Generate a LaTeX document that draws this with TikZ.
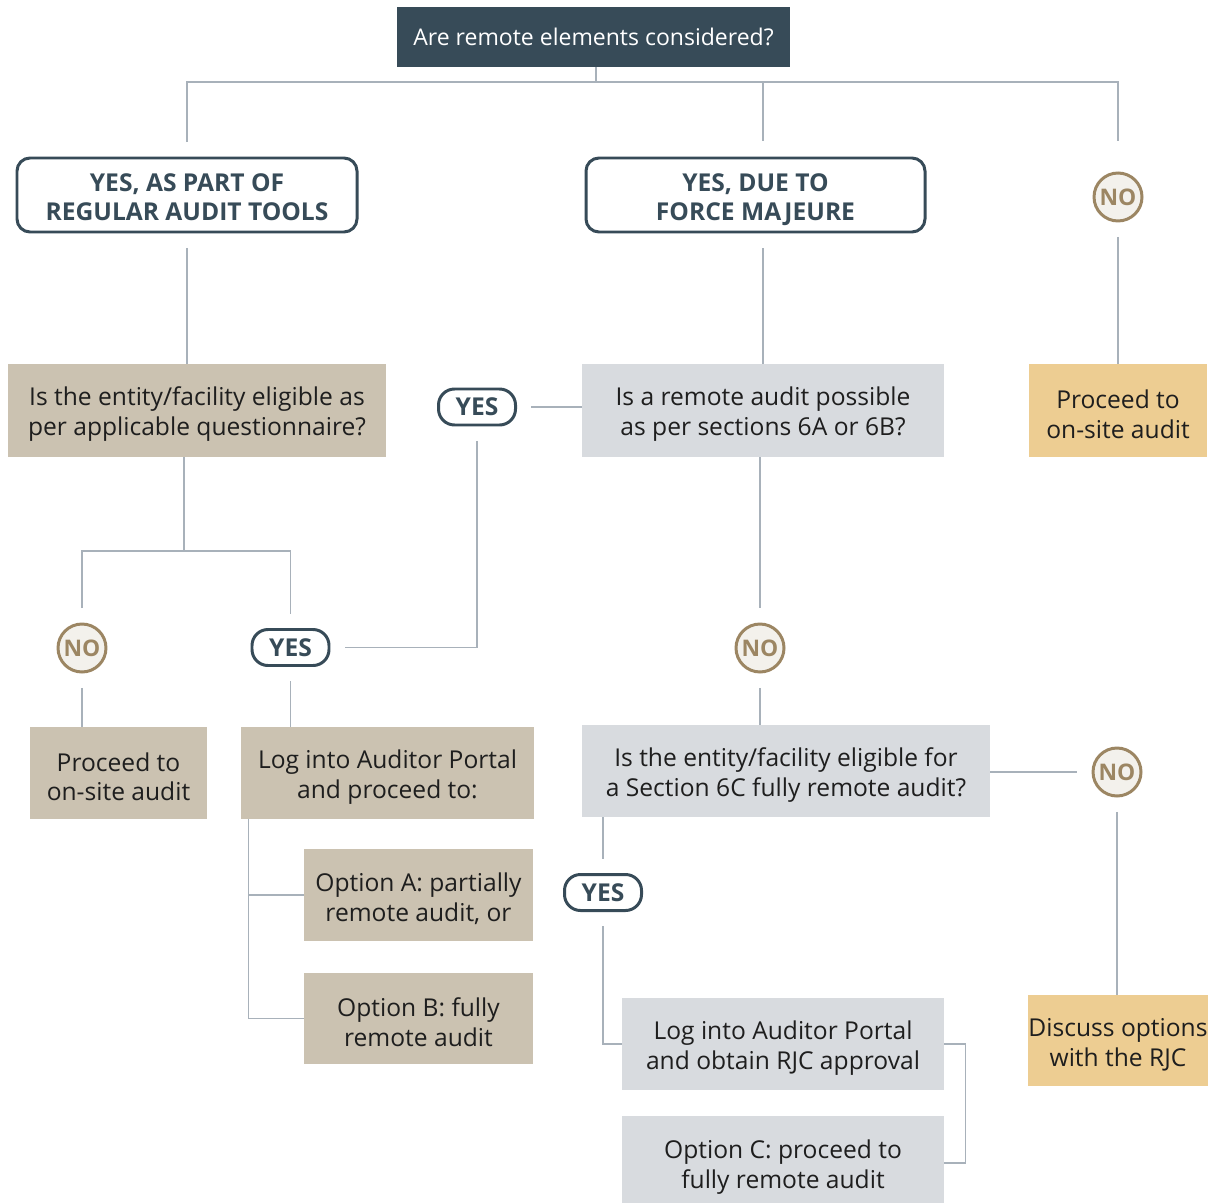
\documentclass[tikz,border=0pt]{standalone}
\usepackage{fontspec}
\setmainfont{Open Sans}
\definecolor{slate}{RGB}{55,75,88}
\definecolor{sand}{RGB}{203,194,177}
\definecolor{mist}{RGB}{216,219,223}
\definecolor{honey}{RGB}{237,205,146}
\definecolor{bronze}{RGB}{156,134,99}
\definecolor{shell}{RGB}{243,241,236}
\definecolor{wire}{RGB}{168,177,186}
\definecolor{ink}{RGB}{30,30,30}
\newcommand\pad[1][15pt]{\rule{0pt}{#1}}
\tikzset{
  wh/.style 2 args={minimum width=#1*0.02cm, minimum height=#2*0.02cm},
  box/.style={inner sep=0pt, align=center, text=ink, font=\fontsize{14}{17}\selectfont},
  sandbox/.style={box, fill=sand},
  mistbox/.style={box, fill=mist},
  honeybox/.style={box, fill=honey},
  head/.style={box, fill=slate, text=white, font=\fontsize{13.1}{16}\selectfont},
  tag/.style={inner sep=0pt, align=center, draw=slate, fill=white, line width=1.7pt,
    rounded corners=0.26cm, text=slate, outer sep=9pt,
    font=\bfseries\fontsize{14}{16.5}\selectfont},
  yeslab/.style={tag, wh={77}{36}, rounded corners=0.32cm},
  nolab/.style={circle, draw=bronze, fill=shell, line width=1.7pt, inner sep=0pt,
    minimum size=0.96cm, text=bronze, outer sep=9pt,
    font=\bfseries\fontsize{13}{13}\selectfont},
  link/.style={draw=wire, line width=0.85pt}
}
\begin{document}
\begin{tikzpicture}[x=0.02cm, y=-0.02cm]
\useasboundingbox (0,0) rectangle (1212,1202);
\node[head, wh={393}{60}] (top) at (593.5,37) {Are remote elements considered?};
\node[tag, wh={340}{74}] (yesreg) at (187,195) {\pad[17pt]YES, AS PART OF\strut\\REGULAR AUDIT TOOLS\strut};
\node[tag, wh={339}{74}] (yesfm) at (755.5,195) {\pad[17pt]YES, DUE TO\strut\\FORCE MAJEURE\strut};
\node[nolab] (no1) at (1118,197) {NO};
\node[sandbox, wh={378}{93}] (elig) at (197,410.5) {\pad Is the entity/facility eligible as\\per applicable questionnaire?};
\node[mistbox, wh={362}{93}] (remote) at (763,410.5) {\pad Is a remote audit possible\\as per sections 6A or 6B?};
\node[honeybox, wh={178}{93}] (onsite1) at (1118,410.5) {\pad Proceed to\\on-site audit};
\node[yeslab] (yes1) at (477,407) {YES};
\node[nolab] (no2) at (82,648) {NO};
\node[yeslab] (yes2) at (290.5,647.5) {YES};
\node[nolab] (no3) at (760,648) {NO};
\node[sandbox, wh={177}{92}] (onsite2) at (118.5,773) {\pad Proceed to\\on-site audit};
\node[sandbox, wh={293}{92}] (portal) at (387.5,773) {\pad Log into Auditor Portal\\and proceed to:};
\node[sandbox, wh={229}{92}] (optA) at (418.5,895) {\pad Option A: partially\\remote audit, or};
\node[sandbox, wh={229}{91}] (optB) at (418.5,1018.5) {\pad Option B: fully\\remote audit};
\node[mistbox, wh={408}{92}] (six) at (786,771) {\pad Is the entity/facility eligible for\\a Section 6C fully remote audit?};
\node[nolab] (no4) at (1117,772) {NO};
\node[honeybox, wh={178}{91}] (discuss) at (1118,1040.5) {\pad Discuss options\\with the RJC};
\node[yeslab] (yes3) at (603,892.5) {YES};
\node[mistbox, wh={322}{92}] (approval) at (783,1044) {\pad Log into Auditor Portal\\and obtain RJC approval};
\node[mistbox, wh={322}{94}] (optC) at (783,1163) {\pad Option C: proceed to\\fully remote audit};
% branches from the top question
\coordinate (hub) at (596,82);
\coordinate (fmhook) at (763,141);
\coordinate (nohook) at (1118,141);
\draw[link] (hub |- top.south) -- (hub);
\draw[link] (yesreg.north) |- (hub) -| (nohook);
\draw[link] (fmhook |- hub) -- (fmhook);
\draw[link] (yesreg.south) -- (yesreg.south |- elig.north);
\draw[link] (remote.north) -- (remote.north |- yesfm.south);
\draw[link] (no1.south) -- (onsite1.north);
% left column
\coordinate (split) at (184,551);
\draw[link] (split |- elig.south) -- (split);
\draw[link] (no2.north) |- (split) -| (yes2.north);
\draw[link] (no2.south) -- (no2.south |- onsite2.north);
\draw[link] (yes2.south) -- (yes2.south |- portal.north);
\draw[link] ([xshift=0.16cm]portal.south west) |- (optA.west);
\draw[link] ([xshift=0.16cm]portal.south west) |- (optB.west);
% middle and right
\draw[link] (yes1.east) -- (yes1.east -| remote.west);
\draw[link] (yes1.south) |- (yes2.east);
\draw[link] (no3 |- remote.south) -- (no3.north);
\draw[link] (no3.south) -- (no3.south |- six.north);
\draw[link] (no4.west -| six.east) -- (no4.west);
\draw[link] (no4.south) -- (no4.south |- discuss.north);
\draw[link] (yes3.north) -- (yes3.north |- six.south);
\draw[link] (yes3.south) |- (approval.west);
\draw[link] (approval.east) -- ++(21,0) |- (optC.east);
\end{tikzpicture}
\end{document}
